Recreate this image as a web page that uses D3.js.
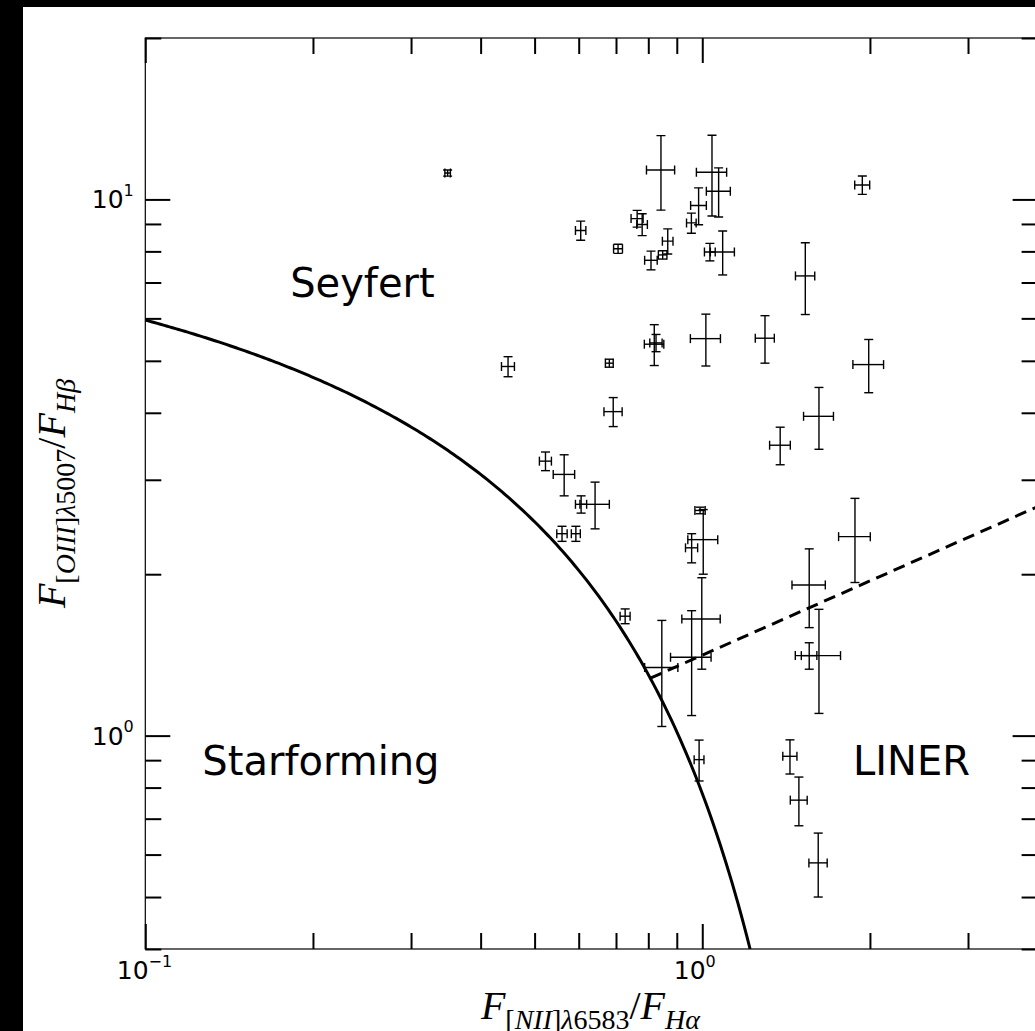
<!DOCTYPE html>
<html>
<head>
<meta charset="utf-8">
<script src="https://cdn.jsdelivr.net/npm/d3@7"></script>
<style>
  html, body { margin: 0; padding: 0; background: #000; }
  svg { display: block; }
</style>
</head>
<body>
<svg id="chart" width="1035" height="1031"></svg>
<script>
// [NII]/Halpha line ratio of each object and its 1-sigma error
const niiHa = [0.349, 0.843, 1.041, 1.070, 0.985, 0.956, 0.605, 0.764, 0.780, 0.706,
               0.867, 0.849, 0.809, 1.032, 1.088, 0.448, 0.681, 0.820, 0.826, 1.015,
               0.692, 1.938, 1.531, 1.296, 1.990, 1.620, 1.380, 1.880, 1.556, 1.620,
               1.556, 1.437, 1.491, 1.615, 0.523, 0.565, 0.642, 0.606, 0.560, 0.593,
               0.991, 1.004, 0.957, 0.727, 0.998, 0.957, 0.846, 0.987];
const niiHaErr = [0.004, 0.049, 0.065, 0.053, 0.032, 0.019, 0.013, 0.019, 0.017, 0.013,
                  0.019, 0.015, 0.021, 0.023, 0.054, 0.012, 0.011, 0.033, 0.021, 0.063,
                  0.026, 0.060, 0.061, 0.051, 0.126, 0.100, 0.059, 0.123, 0.107, 0.151,
                  0.050, 0.042, 0.052, 0.061, 0.013, 0.025, 0.039, 0.014, 0.012, 0.011,
                  0.021, 0.062, 0.024, 0.015, 0.079, 0.080, 0.058, 0.020];
// [OIII]/Hbeta line ratio of each object and its 1-sigma error
const oiiiHb = [11.20, 11.35, 11.24, 10.36, 9.74, 9.04, 8.75, 9.21, 8.98, 8.09,
                8.36, 7.88, 7.70, 7.98, 7.98, 4.88, 4.95, 5.37, 5.40, 5.50,
                4.02, 10.64, 7.20, 5.51, 4.92, 3.94, 3.48, 2.35, 1.91, 1.41,
                1.41, 0.915, 0.758, 0.579, 3.25, 3.07, 2.70, 2.70, 2.38, 2.38,
                2.63, 2.32, 2.24, 1.67, 1.65, 1.40, 1.34, 0.902];
const oiiiHbErr = [0.15, 1.80, 1.93, 1.09, 0.77, 0.39, 0.36, 0.33, 0.42, 0.16,
                   0.45, 0.14, 0.31, 0.30, 0.75, 0.21, 0.085, 0.47, 0.20, 0.61,
                   0.25, 0.42, 1.10, 0.56, 0.56, 0.52, 0.28, 0.42, 0.32, 0.31,
                   0.08, 0.067, 0.079, 0.079, 0.13, 0.27, 0.27, 0.10, 0.077, 0.077,
                   0.037, 0.32, 0.14, 0.053, 0.32, 0.31, 0.30, 0.079];

// Axis ticks
const xMajorTicks = [0.1, 1];
const xMinorTicks = [0.2, 0.3, 0.4, 0.5, 0.6, 0.7, 0.8, 0.9, 2, 3, 4];
const yMajorTicks = [1, 10];
const yMinorTicks = [0.4, 0.5, 0.6, 0.7, 0.8, 0.9, 2, 3, 4, 5, 6, 7, 8, 9, 20];
const xTickExponents = ["\u22121", "0"];
const yTickExponents = ["0", "1"];

// Classification region names and where they sit (data coordinates)
const regionNames = ["Seyfert", "Starforming", "LINER"];
const regionX = [0.182, 0.1266, 1.865];
const regionY = [7.0, 0.9, 0.9];

// Kewley et al. (2001) maximum-starburst line: log y = a / (log x - b) + c
const kewleyA = 0.61, kewleyB = 0.47, kewleyC = 1.19;
// Seyfert / LINER dividing line, from its meeting with the starburst line to the right edge
const dividerX = [0.807, 4.0];
const dividerY = [1.28, 2.673];

const svg = d3.select("#chart");
const W = 1035, H = 1031;
const pL = 145.3, pR = 1037.6, pT = 38, pB = 949;

// white figure area
svg.append("rect").attr("x", 23).attr("y", 7).attr("width", W).attr("height", H).attr("fill", "#fff");

const x = d3.scaleLog().domain([0.1, 4]).range([pL, pR]);
const y = d3.scaleLog().domain([0.4, 20]).range([pB, pT]);

svg.append("defs").append("clipPath").attr("id", "plotClip")
  .append("rect").attr("x", pL).attr("y", pT).attr("width", pR - pL).attr("height", pB - pT);

const tickStyle = g => {
  g.select(".domain").remove();
  g.selectAll(".tick line").attr("stroke", "#000").attr("stroke-width", 2);
  g.selectAll(".tick text").remove();
};

// ticks on all four sides, pointing inward
const MAJ = 25, MIN = 16;
svg.append("g").attr("transform", `translate(0,${pB})`)
  .call(d3.axisBottom(x).tickValues(xMajorTicks).tickSize(-MAJ).tickSizeOuter(0)).call(tickStyle);
svg.append("g").attr("transform", `translate(0,${pB})`)
  .call(d3.axisBottom(x).tickValues(xMinorTicks).tickSize(-MIN).tickSizeOuter(0)).call(tickStyle);
svg.append("g").attr("transform", `translate(0,${pT})`)
  .call(d3.axisTop(x).tickValues(xMajorTicks).tickSize(-MAJ).tickSizeOuter(0)).call(tickStyle);
svg.append("g").attr("transform", `translate(0,${pT})`)
  .call(d3.axisTop(x).tickValues(xMinorTicks).tickSize(-MIN).tickSizeOuter(0)).call(tickStyle);
svg.append("g").attr("transform", `translate(${pL},0)`)
  .call(d3.axisLeft(y).tickValues(yMajorTicks).tickSize(-MAJ).tickSizeOuter(0)).call(tickStyle);
svg.append("g").attr("transform", `translate(${pL},0)`)
  .call(d3.axisLeft(y).tickValues(yMinorTicks).tickSize(-MIN).tickSizeOuter(0)).call(tickStyle);
svg.append("g").attr("transform", `translate(${pR},0)`)
  .call(d3.axisRight(y).tickValues(yMajorTicks).tickSize(-MAJ).tickSizeOuter(0)).call(tickStyle);
svg.append("g").attr("transform", `translate(${pR},0)`)
  .call(d3.axisRight(y).tickValues(yMinorTicks).tickSize(-MIN).tickSizeOuter(0)).call(tickStyle);

// frame
svg.append("rect").attr("x", pL).attr("y", pT)
  .attr("width", pR - pL).attr("height", pB - pT)
  .attr("fill", "none").attr("stroke", "#000").attr("stroke-width", 1.2);

// power-of-ten tick labels
const labelFont = "'DejaVu Sans', sans-serif";
function powerLabel(sel, exp) {
  sel.append("tspan").attr("font-size", 25).text("10");
  sel.append("tspan").attr("font-size", 16).attr("dy", -12.5).text(exp);
}
xMajorTicks.forEach((v, i) => {
  const t = svg.append("text").attr("x", x(v) - 28.5).attr("y", 979)
    .attr("font-family", labelFont).attr("fill", "#000");
  powerLabel(t, xTickExponents[i]);
});
yMajorTicks.forEach((v, i) => {
  const t = svg.append("text").attr("x", pL - 11.5).attr("y", y(v) + 9)
    .attr("text-anchor", "end").attr("font-family", labelFont).attr("fill", "#000");
  powerLabel(t, yTickExponents[i]);
});

// axis titles in math style
const mathFont = "'Liberation Serif', 'DejaVu Serif', serif";
function ratioLabel(sel, num, den) {
  // num: [ion, wavelength]; den: Balmer line letter
  sel.append("tspan").attr("font-style", "italic").attr("font-size", 40).text("F");
  sel.append("tspan").attr("font-size", 28).attr("dy", 10).text("[");
  sel.append("tspan").attr("font-size", 28).attr("font-style", "italic").text(num[0]);
  sel.append("tspan").attr("font-size", 28).text("]");
  sel.append("tspan").attr("font-size", 28).attr("font-style", "italic").text("\u03bb");
  sel.append("tspan").attr("font-size", 28).text(num[1]);
  sel.append("tspan").attr("font-size", 40).attr("dy", -10).text("/");
  sel.append("tspan").attr("font-size", 40).attr("font-style", "italic").text("F");
  sel.append("tspan").attr("font-size", 28).attr("dy", 10).attr("font-style", "italic").text("H" + den);
}
const xt = svg.append("text").attr("x", (pL + pR) / 2 - 1).attr("y", 1019)
  .attr("text-anchor", "middle").attr("font-family", mathFont).attr("fill", "#000");
ratioLabel(xt, ["NII", "6583"], "\u03b1");
const yt = svg.append("text")
  .attr("transform", `translate(65,${(pT + pB) / 2}) rotate(-90)`)
  .attr("text-anchor", "middle").attr("font-family", mathFont).attr("fill", "#000");
ratioLabel(yt, ["OIII", "5007"], "\u03b2");

const plot = svg.append("g").attr("clip-path", "url(#plotClip)");

// maximum-starburst curve, drawn until it leaves the bottom of the plot
const yMin = y.domain()[0];
const xEnd = Math.pow(10, kewleyB + kewleyA / (Math.log10(yMin) - kewleyC));
const nSamp = 200;
const kewleyPts = d3.range(nSamp + 1).map(i => {
  const lx = Math.log10(0.1) + (Math.log10(xEnd) - Math.log10(0.1)) * i / nSamp;
  return [Math.pow(10, lx), Math.pow(10, kewleyA / (lx - kewleyB) + kewleyC)];
});
const line = d3.line().x(d => x(d[0])).y(d => y(d[1]));
plot.append("path").datum(kewleyPts).attr("d", line)
  .attr("fill", "none").attr("stroke", "#000").attr("stroke-width", 3);

plot.append("path").datum(dividerX.map((v, i) => [v, dividerY[i]])).attr("d", line)
  .attr("fill", "none").attr("stroke", "#000").attr("stroke-width", 3)
  .attr("stroke-dasharray", "12,7");

// error bars
const cap = 4.5;
const eb = plot.append("g").attr("stroke", "#000").attr("stroke-width", 1.4).attr("fill", "none");
niiHa.forEach((xv, i) => {
  const yv = oiiiHb[i], xe = niiHaErr[i], ye = oiiiHbErr[i];
  const cx = x(xv), cy = y(yv);
  const x0 = x(xv - xe), x1 = x(xv + xe), y0 = y(yv - ye), y1 = y(yv + ye);
  const g = eb.append("g");
  g.append("line").attr("x1", x0).attr("x2", x1).attr("y1", cy).attr("y2", cy);
  g.append("line").attr("x1", x0).attr("x2", x0).attr("y1", cy - cap).attr("y2", cy + cap);
  g.append("line").attr("x1", x1).attr("x2", x1).attr("y1", cy - cap).attr("y2", cy + cap);
  g.append("line").attr("x1", cx).attr("x2", cx).attr("y1", y0).attr("y2", y1);
  g.append("line").attr("x1", cx - cap).attr("x2", cx + cap).attr("y1", y0).attr("y2", y0);
  g.append("line").attr("x1", cx - cap).attr("x2", cx + cap).attr("y1", y1).attr("y2", y1);
});

// region names
regionNames.forEach((name, i) => {
  svg.append("text").attr("x", x(regionX[i])).attr("y", y(regionY[i]))
    .attr("dy", "0.36em").attr("font-family", labelFont).attr("font-size", 40)
    .attr("fill", "#000").text(name);
});
</script>
</body>
</html>
